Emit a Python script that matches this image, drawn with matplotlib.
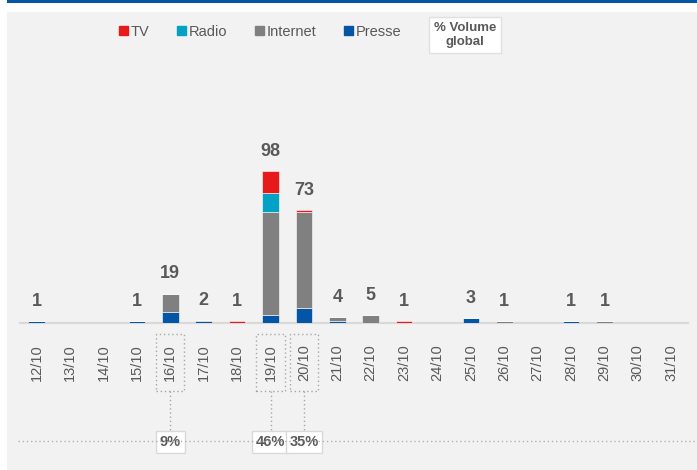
import numpy as np
import matplotlib
matplotlib.use("Agg")
import matplotlib.pyplot as plt
from matplotlib.patches import Rectangle, Patch
from matplotlib.lines import Line2D
from matplotlib.transforms import blended_transform_factory

plt.rcParams['font.family'] = ['Liberation Sans', 'DejaVu Sans']

# data
days = ["12/10", "13/10", "14/10", "15/10", "16/10", "17/10", "18/10", "19/10", "20/10", "21/10",
        "22/10", "23/10", "24/10", "25/10", "26/10", "27/10", "28/10", "29/10", "30/10", "31/10"]
presse = [1, 0, 0, 1, 7, 1, 0, 5, 10, 1, 0, 0, 0, 3, 0, 0, 1, 0, 0, 0]
internet = [0, 0, 0, 0, 12, 1, 0, 67, 62, 3, 5, 0, 0, 0, 1, 0, 0, 1, 0, 0]
radio = [0, 0, 0, 0, 0, 0, 0, 12, 0, 0, 0, 0, 0, 0, 0, 0, 0, 0, 0, 0]
tv = [0, 0, 0, 0, 0, 0, 1, 14, 1, 0, 0, 1, 0, 0, 0, 0, 0, 0, 0, 0]
pct_days = ["16/10", "19/10", "20/10"]
pct_values = [9, 46, 35]

C_TV = "#E8191A"
C_RADIO = "#03A1C3"
C_NET = "#808080"
C_PRESSE = "#0455A5"
TXT = "#595959"

W, H = 697, 470
fig = plt.figure(figsize=(W / 100, H / 100), dpi=100, facecolor="white")


def fy(py):
    # pixel row (from top) -> figure fraction
    return 1 - py / H


# gray panel and blue band at the top
fig.add_artist(Rectangle((7 / W, 0), 1 - 7 / W, fy(12), transform=fig.transFigure,
                         fc="#F2F2F2", ec="none", zorder=0))
fig.add_artist(Rectangle((7 / W, fy(3)), 1 - 7 / W, 3 / H, transform=fig.transFigure,
                         fc="#0455A5", ec="none", zorder=0))

ax = fig.add_axes([20 / W, fy(323), (688 - 20) / W, (323 - 60) / H])
ax.set_facecolor("none")

x = np.arange(len(days))
series = [(presse, C_PRESSE), (internet, C_NET), (radio, C_RADIO), (tv, C_TV)]
bottom = np.zeros(len(days))
for vals, col in series:
    vals = np.array(vals)
    ax.bar(x, vals, width=0.5, bottom=bottom, color=col, edgecolor="white", linewidth=0.4, zorder=3)
    bottom += vals

for i, tot in enumerate(bottom):
    if tot > 0:
        ax.annotate(f"{int(tot)}", (i, tot), xytext=(0, 11), textcoords="offset points",
                    ha="center", va="baseline", fontsize=13, fontweight="bold", color=TXT)

ax.set_xlim(-0.5, len(days) - 0.5)
ax.set_ylim(0, 170)
ax.set_yticks([])
for s in ["top", "right", "left"]:
    ax.spines[s].set_visible(False)
ax.spines["bottom"].set_color("#D9D9D9")
ax.spines["bottom"].set_linewidth(1.5)
ax.set_xticks(x)
ax.set_xticklabels(days, rotation=90, fontsize=10.5, color=TXT)
ax.tick_params(axis="x", length=0, pad=15)

# dotted line with the share of global volume
fig.add_artist(Line2D([18 / W, 1], [fy(441), fy(441)], transform=fig.transFigure,
                      ls=(0, (1, 2)), color="#B0B0B0", lw=1, zorder=1))
trans = blended_transform_factory(ax.transData, fig.transFigure)
for d, p in zip(pct_days, pct_values):
    i = days.index(d)
    ax.add_patch(Rectangle((i - 0.42, fy(391)), 0.84, fy(334) - fy(391), transform=trans,
                           fill=False, ls=(0, (1, 2)), ec="#A6A6A6", lw=1, clip_on=False))
    ax.plot([i, i], [fy(391), fy(432)], transform=trans, ls=(0, (1, 2)), color="#A6A6A6",
            lw=1, clip_on=False)
    ax.text(i, fy(442), f"{p}%", transform=trans, ha="center", va="center", fontsize=10.5,
            fontweight="bold", color=TXT, zorder=5,
            bbox=dict(boxstyle="square,pad=0.25", fc="white", ec="#D9D9D9", lw=1))

# legend
handles = [Patch(color=C_TV, label="TV"), Patch(color=C_RADIO, label="Radio"),
           Patch(color=C_NET, label="Internet"), Patch(color=C_PRESSE, label="Presse")]
leg = fig.legend(handles=handles, loc="center", bbox_to_anchor=(260 / W, fy(32)), ncol=4,
                 frameon=False, fontsize=10.5, handlelength=0.6, handleheight=0.6,
                 handletextpad=0.2, columnspacing=1.9)
for t in leg.get_texts():
    t.set_color(TXT)

fig.text(465 / W, fy(35), "% Volume\nglobal", ha="center", va="center", fontsize=9.5,
         fontweight="bold", color=TXT, linespacing=1.2,
         bbox=dict(boxstyle="square,pad=0.35", fc="white", ec="#E0E0E0", lw=1))

fig.savefig("out.png", dpi=100, facecolor="white")
